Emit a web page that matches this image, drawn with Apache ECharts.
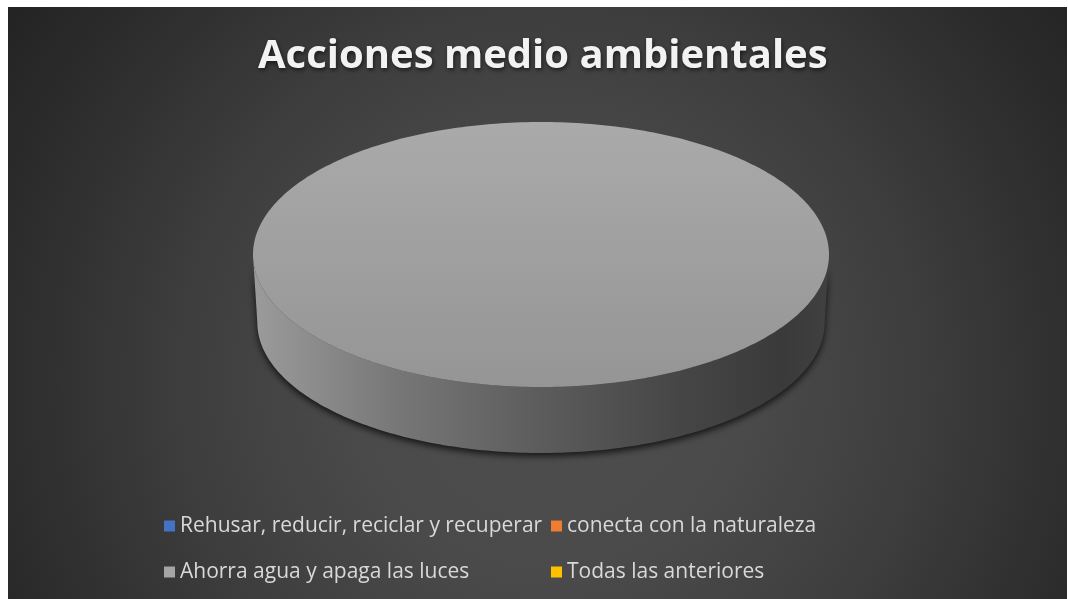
<!DOCTYPE html>
<html>
<head>
<meta charset="utf-8">
<script src="https://cdn.jsdelivr.net/npm/echarts@6/dist/echarts.min.js"></script>
<style>
  html, body { margin: 0; padding: 0; background: #ffffff; }
  #chart { position: absolute; left: 8px; top: 7px; width: 1059px; height: 592px; }
</style>
</head>
<body>
<div id="chart"></div>
<script>
// ---- data ----
const chartTitle = 'Acciones medio ambientales';
const categories = [
  'Rehusar, reducir, reciclar y recuperar',
  'conecta con la naturaleza',
  'Ahorra agua y apaga las luces',
  'Todas las anteriores'
];
const values = [0, 0, 1, 0];
const colors = ['#4472C4', '#ED7D31', '#A5A5A5', '#FFC000'];

// ---- 3D pie geometry (pixels inside the chart) ----
const PIE = { cx: 533, cy: 247.5, rx: 288, ry: 132.5, depth: 68, bottomScale: 0.985 };

function shade(hex, f) {
  const h = hex.replace('#', '');
  const rgb = [0, 2, 4].map(i => parseInt(h.substr(i, 2), 16));
  const out = rgb.map(v => Math.max(0, Math.min(255, Math.round(v * f))));
  return 'rgb(' + out.join(',') + ')';
}

function sampleArc(fn, s, e) {
  const n = Math.max(2, Math.ceil(Math.abs(e - s) / (Math.PI / 180)));
  const pts = [];
  for (let k = 0; k <= n; k++) pts.push(fn(s + (e - s) * k / n));
  return pts;
}

function makeRenderer(catIndex) {
  return function (params, api) {
    const total = values.reduce((a, b) => a + b, 0);
    const v = values[catIndex];
    if (!total || !v) return { type: 'group', children: [] };
    let before = 0;
    for (let i = 0; i < catIndex; i++) before += values[i];
    // angles clockwise from 12 o'clock
    const a0 = before / total * 2 * Math.PI;
    const a1 = (before + v) / total * 2 * Math.PI;
    const { cx, cy, rx, ry, depth, bottomScale } = PIE;
    const topPt = t => [cx + rx * Math.sin(t), cy - ry * Math.cos(t)];
    const botPt = t => [cx + rx * bottomScale * Math.sin(t), cy + depth - ry * bottomScale * Math.cos(t)];
    const c = colors[catIndex];
    const children = [];

    // visible front wall: between 3 o'clock and 9 o'clock
    const s = Math.max(a0, Math.PI / 2);
    const e = Math.min(a1, 3 * Math.PI / 2);
    if (e > s) {
      const pts = sampleArc(topPt, s, e).concat(sampleArc(botPt, e, s));
      children.push({
        type: 'polygon',
        shape: { points: pts },
        style: {
          fill: {
            type: 'linear', global: true,
            x: cx - rx, y: 0, x2: cx + rx, y2: 0,
            colorStops: [
              { offset: 0, color: shade(c, 0.94) },
              { offset: 0.25, color: shade(c, 0.72) },
              { offset: 0.5, color: shade(c, 0.56) },
              { offset: 0.75, color: shade(c, 0.42) },
              { offset: 0.92, color: shade(c, 0.35) },
              { offset: 1, color: shade(c, 0.39) }
            ]
          },
          shadowBlur: 7,
          shadowColor: 'rgba(0,0,0,0.75)',
          shadowOffsetY: 3
        }
      });
    }

    // top face
    const full = (a1 - a0) >= 2 * Math.PI - 1e-9;
    let topPts = sampleArc(topPt, a0, a1);
    if (!full) topPts = [[cx, cy]].concat(topPts);
    children.push({
      type: 'polygon',
      shape: { points: topPts },
      style: {
        fill: {
          type: 'linear', global: true,
          x: 0, y: cy - ry, x2: 0, y2: cy + ry,
          colorStops: [
            { offset: 0, color: shade(c, 1.03) },
            { offset: 1, color: shade(c, 0.9) }
          ]
        }
      }
    });
    return { type: 'group', children: children };
  };
}

const chart = echarts.init(document.getElementById('chart'), null, { renderer: 'canvas' });

const series = categories.map((name, i) => ({
  type: 'custom',
  name: name,
  coordinateSystem: 'none',
  itemStyle: { color: colors[i] },
  data: [values[i]],
  renderItem: makeRenderer(i),
  silent: true
}));

chart.setOption({
  backgroundColor: {
    type: 'radial', global: true, x: 542, y: 373, r: 660,
    colorStops: [
      { offset: 0, color: '#4e4e4e' },
      { offset: 0.3, color: '#4a4a4a' },
      { offset: 0.55, color: '#3e3e3e' },
      { offset: 0.8, color: '#2e2e2e' },
      { offset: 1, color: '#232323' }
    ]
  },
  animation: false,
  title: {
    text: chartTitle,
    left: 250,
    top: 30,
    padding: 0,
    textStyle: {
      color: '#f2f2f2',
      fontFamily: 'Open Sans',
      fontWeight: 'bold',
      fontSize: 40,
      textShadowColor: 'rgba(0,0,0,0.6)',
      textShadowBlur: 4,
      textShadowOffsetX: 1,
      textShadowOffsetY: 2
    }
  },
  legend: {
    data: categories,
    left: 156,
    top: 498,
    width: 820,
    padding: 0,
    orient: 'horizontal',
    icon: 'rect',
    itemWidth: 11,
    itemHeight: 11,
    itemGap: 4,
    textStyle: {
      color: '#d9d9d9',
      fontFamily: 'Open Sans',
      fontSize: 21,
      width: 367,
      lineHeight: 42
    }
  },
  series: series
});
</script>
</body>
</html>
